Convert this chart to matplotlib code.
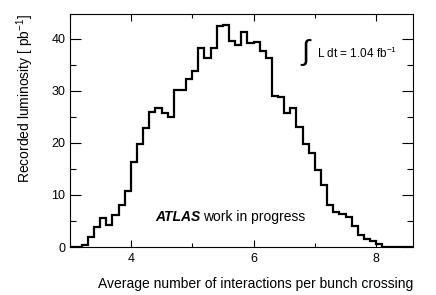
import numpy as np
import matplotlib
matplotlib.use('Agg')
import matplotlib.pyplot as plt
from matplotlib.ticker import MultipleLocator

plt.rcParams['font.family'] = ['Liberation Sans', 'DejaVu Sans']
plt.rcParams['mathtext.fontset'] = 'custom'
plt.rcParams['mathtext.rm'] = 'Liberation Sans'

# bin edges 3.0 .. 8.6, width 0.1
bin_lo = 3.0
bin_width = 0.1
lumi = [0.0, 0.0, 0.3, 1.9, 3.8, 5.6, 4.2, 6.2, 8.1, 10.8,
        16.4, 19.9, 22.8, 25.9, 26.7, 25.8, 24.9, 30.2, 30.2, 32.3,
        33.8, 38.2, 36.4, 38.3, 42.5, 42.7, 39.7, 38.8, 41.3, 39.2,
        39.4, 37.6, 36.3, 29.1, 28.8, 25.7, 26.8, 23.1, 19.9, 18.0,
        14.8, 11.9, 8.1, 6.8, 6.35, 5.8, 4.0, 2.4, 1.5, 1.1,
        0.6, 0.0, 0.0, 0.0, 0.0, 0.0]

edges = bin_lo + bin_width * np.arange(len(lumi) + 1)

fig = plt.figure(figsize=(4.36, 2.95), dpi=100)
ax = fig.add_axes([69.5 / 436, 1 - 247 / 295, (413 - 69.5) / 436, (247 - 14) / 295])

ax.stairs(lumi, edges, color='black', linewidth=1.6, baseline=None)

ax.set_xlim(3.0, 8.6)
ax.set_ylim(0, 44.8)
ax.xaxis.set_major_locator(MultipleLocator(2))
ax.xaxis.set_minor_locator(MultipleLocator(1))
ax.yaxis.set_major_locator(MultipleLocator(10))
ax.yaxis.set_minor_locator(MultipleLocator(5))
ax.tick_params(which='both', direction='in', top=True, right=True, labelsize=9, width=0.8)
ax.tick_params(axis='x', which='major', length=5, pad=4)
ax.tick_params(axis='x', which='minor', length=3)
ax.tick_params(axis='y', which='major', length=8, pad=3)
ax.tick_params(axis='y', which='minor', length=4)
for s in ax.spines.values():
    s.set_linewidth(0.8)

ax.set_xlabel('Average number of interactions per bunch crossing', fontsize=10, loc='right', labelpad=9)
ax.set_ylabel(r'Recorded luminosity [ pb$^{-1}$]', fontsize=10, loc='top', labelpad=11)

ax.text(155 / 436, 1 - 217 / 295, 'ATLAS', transform=fig.transFigure, fontsize=10,
        fontweight='bold', fontstyle='italic', va='center', ha='left')
ax.text(203 / 436, 1 - 217 / 295, 'work in progress', transform=fig.transFigure,
        fontsize=10, va='center', ha='left')

ax.text(300 / 436, 1 - 52 / 295, r'$\int$', transform=fig.transFigure, fontsize=21,
        va='center', ha='left')
ax.text(317 / 436, 1 - 53 / 295, r'L dt = 1.04 fb$^{-1}$', transform=fig.transFigure,
        fontsize=8.5, va='center', ha='left')

fig.savefig('out.png', dpi=100)
